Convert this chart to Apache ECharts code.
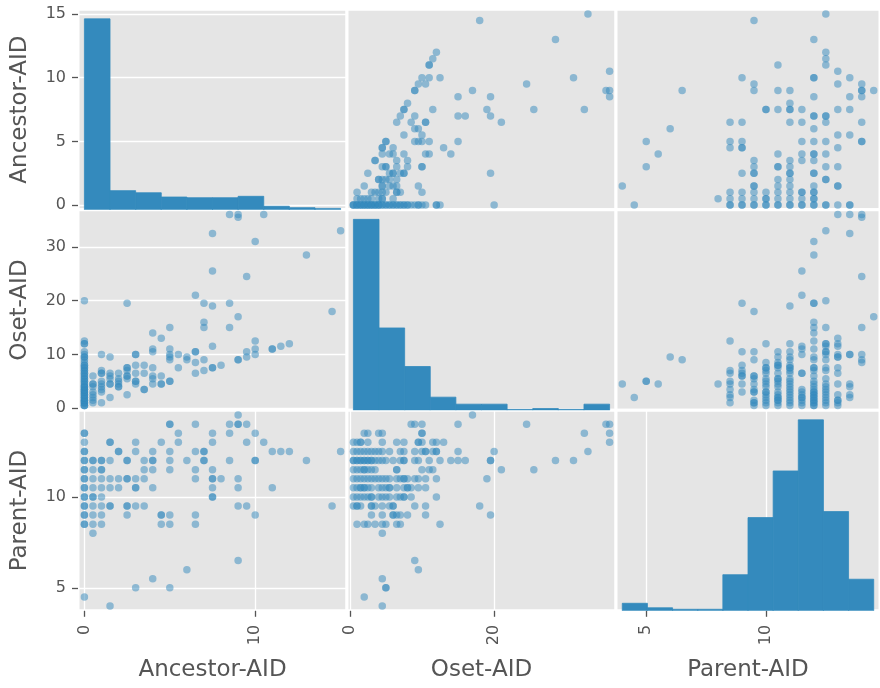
<!DOCTYPE html>
<html><head><meta charset="utf-8">
<script src="https://cdn.jsdelivr.net/npm/echarts@6/dist/echarts.min.js"></script>
<style>html,body{margin:0;padding:0;background:#fff}#c{width:880px;height:688px}</style>
</head><body><div id="c"></div><script>
const variables = ['Ancestor-AID', 'Oset-AID', 'Parent-AID'];

// [Ancestor-AID, Oset-AID]
const ancestorOsetPairs = [
 [0,0.5],[0,0.5],[0,0.5],[0,1],[0,1],[0,1],[0,1.5],[0,1.5],[0,1.5],[0,2],[0,2],[0,2],[0,2.5],[0,2.5],[0,2.5],
 [0,3],[0,3],[0,3],[0,3.5],[0,3.5],[0,3.5],[0,4],[0,4],[0,4],[0,4.5],[0,4.5],[0,5],[0,5],[0,5.5],[0,5.5],
 [0,6],[0,6],[0,6.5],[0,6.5],[0,7],[0,7],[0,7.5],[0,7.5],[0,8],[0,8],[0,8.5],[0,9],[0,9.5],[0,9.5],[0,10],
 [0,10.5],[0,12],[0,12],[0,12.5],[0,20],
 [0.5,1],[0.5,1.5],[0.5,2],[0.5,2.5],[0.5,3],[0.5,4],[0.5,4.5],[0.5,4.5],[0.5,6],
 [1,1],[1,3],[1,3.5],[1,4],[1,4.5],[1,5],[1,6.5],[1,6.5],[1,7],[1,10],
 [1.5,2],[1.5,4.5],[1.5,4.5],[1.5,5.5],[1.5,6],[1.5,6.5],[1.5,9.5],
 [2,4],[2,4],[2,4.5],[2,5],[2,5.5],[2,6.5],
 [2.5,2.5],[2.5,5.5],[2.5,6],[2.5,6],[2.5,7],[2.5,7.5],[2.5,7.5],[2.5,19.5],
 [3,4.5],[3,5],[3,5],[3,6.5],[3,8],[3,10],[3,10],
 [3.5,3.5],[3.5,3.5],[3.5,6.5],[3.5,8],
 [4,4.5],[4,5.5],[4,6],[4,7.5],[4,10.5],[4,11],[4,14],
 [4.5,4.5],[4.5,4.5],[4.5,6],[4.5,13],
 [5,5],[5,5],[5,9],[5,9.5],[5,10],[5,11],[5,15],
 [5.5,7.5],[5.5,10],
 [6,9],[6,9.5],
 [6.5,6.5],[6.5,8.5],[6.5,10.5],[6.5,10.5],[6.5,21],
 [7,7],[7,9],[7,15],[7,16],[7,19.5],
 [7.5,7.5],[7.5,7.5],[7.5,11.5],[7.5,19],[7.5,25.5],[7.5,32.5],
 [8,8],
 [8.5,15],[8.5,19.5],[8.5,36],
 [9,9],[9,9],[9,17],[9,35.5],[9,36],
 [9.5,9.5],[9.5,10.5],[9.5,24.5],
 [10,10],[10,11],[10,12.5],[10,31],
 [10.5,36],
 [11,11],[11,11],
 [11.5,11.5],
 [12,12],
 [13,28.5],
 [14.5,18],
 [15,33]
];

// [Ancestor-AID, Parent-AID]
const ancestorParentPairs = [
 [9,14.5],
 [5,14],[5,14],[6.5,14],[8.5,14],[9,14],[9,14],[9.5,14],
 [0,13.5],[0,13.5],[5.5,13.5],[7.5,13.5],[8.5,13.5],[10,13.5],
 [0,13],[1.5,13],[1.5,13],[3,13],[4.5,13],[5.5,13],[7.5,13],[9.5,13],[10.5,13],
 [0,12.5],[0,12.5],[2,12.5],[2,12.5],[3,12.5],[4,12.5],[5,12.5],[6.5,12.5],[7,12.5],[7,12.5],[11,12.5],[11.5,12.5],[12,12.5],[15,12.5],
 [0,12],[0,12],[0.5,12],[0.5,12],[1,12],[1,12],[1.5,12],[2.5,12],[2.5,12],[3.5,12],[4,12],[4,12],[5,12],[6,12],[7,12],[7,12],[8.5,12],[10,12],[10,12],[13,12],
 [0,11.5],[0,11.5],[0.5,11.5],[1,11.5],[1,11.5],[3.5,11.5],[4,11.5],[5,11.5],[6.5,11.5],[7.5,11.5],
 [0,11],[0,11],[0.5,11],[1,11],[1.5,11],[2,11],[2.5,11],[2.5,11],[3,11],[3.5,11],[6.5,11],[7.5,11],[7.5,11],[8,11],[9,11],
 [0,10.5],[0,10.5],[0.5,10.5],[1,10.5],[1.5,10.5],[2,10.5],[3,10.5],[3,10.5],[4,10.5],[7.5,10.5],[9,10.5],[11,10.5],
 [0,10],[0,10],[0.5,10],[0.5,10],[1,10],[7.5,10],[7.5,10],
 [0,9.5],[0,9.5],[0.5,9.5],[1,9.5],[1.5,9.5],[1.5,9.5],[2.5,9.5],[2.5,9.5],[3,9.5],[3.5,9.5],[9,9.5],[9.5,9.5],[14.5,9.5],
 [0,9],[0,9],[0.5,9],[1,9],[2.5,9],[4.5,9],[4.5,9],[5,9],[6.5,9],[10,9],
 [0,8.5],[0,8.5],[0.5,8.5],[1,8.5],[4.5,8.5],[5,8.5],[6.5,8.5],
 [0.5,8],[9,6.5],[6,6],[4,5.5],[3,5],[5,5],[0,4.5],[1.5,4]
];

// [Oset-AID, Parent-AID]
const osetParentPairs = [
 [17,14.5],
 [8.5,14],[9,14],[10,14],[15,14],[24.5,14],[35.5,14],[36,14],
 [2,13.5],[2.5,13.5],[4,13.5],[4.5,13.5],[10,13.5],[10,13.5],[32.5,13.5],[36,13.5],
 [0.5,13],[1,13],[1.5,13],[1.5,13],[2.5,13],[4.5,13],[6.5,13],[7.5,13],[9.5,13],[9.5,13],[10,13],[11.5,13],[12,13],[13,13],[36,13],
 [0.5,12.5],[1,12.5],[1.5,12.5],[2,12.5],[2.5,12.5],[3,12.5],[3.5,12.5],[4,12.5],[4.5,12.5],[5.5,12.5],[7,12.5],[7.5,12.5],
 [9,12.5],[10,12.5],[10.5,12.5],[10.5,12.5],[11.5,12.5],[12,12.5],[12,12.5],[15,12.5],[20,12.5],[33,12.5],
 [0.5,12],[0.5,12],[1,12],[1,12],[1.5,12],[1.5,12],[2,12],[2,12],[2.5,12],[2.5,12],[3,12],[3,12],[3.5,12],[4,12],[4.5,12],
 [5,12],[6,12],[7,12],[7.5,12],[7.5,12],[9,12],[9.5,12],[11,12],[12.5,12],[14,12],[15,12],[16,12],[19.5,12],[19.5,12],[28.5,12],[31,12],
 [0.5,11.5],[1,11.5],[1.5,11.5],[2,11.5],[2,11.5],[2.5,11.5],[3,11.5],[3.5,11.5],[6.5,11.5],[6.5,11.5],[10,11.5],[11,11.5],[11.5,11.5],[21,11.5],[25.5,11.5],
 [0.5,11],[1,11],[1.5,11],[2,11],[2.5,11],[3,11],[3.5,11],[4,11],[4.5,11],[5,11],[5.5,11],[6.5,11],[7,11],[7.5,11],[7.5,11],[8,11],[9,11],[9.5,11],[10.5,11],[12,11],[19,11],
 [0.5,10.5],[1,10.5],[1.5,10.5],[1.5,10.5],[2,10.5],[2,10.5],[2.5,10.5],[3,10.5],[4,10.5],[4.5,10.5],[5,10.5],[5.5,10.5],[5.5,10.5],[6.5,10.5],[7.5,10.5],[8,10.5],[8,10.5],[8.5,10.5],[9.5,10.5],[10.5,10.5],
 [0.5,10],[1,10],[1.5,10],[2,10],[2.5,10],[3,10],[3,10],[4,10],[4.5,10],[5,10],[5.5,10],[6.5,10],[7,10],[7.5,10],[7.5,10],[8.5,10],[12,10],
 [0.5,9.5],[1,9.5],[1,9.5],[1.5,9.5],[3,9.5],[3,9.5],[3.5,9.5],[4.5,9.5],[5.5,9.5],[6,9.5],[6,9.5],[9,9.5],[10.5,9.5],[18,9.5],
 [3,9],[4.5,9],[6,9],[6,9],[6.5,9],[7,9],[8,9],[10.5,9],[19.5,9],
 [1,8.5],[2,8.5],[2.5,8.5],[3.5,8.5],[4.5,8.5],[5,8.5],[6.5,8.5],[7,8.5],[12.5,8.5],
 [4.5,8],[9,6.5],[9.5,6],[4.5,5.5],[5,5],[5,5],[2,4.5],[4.5,4]
];

// histogram counts (10 equal bins between each variable's min and max)
const ancestorHistCounts = [269, 27, 24, 18, 17, 17, 19, 5, 3, 2];
const osetHistCounts = [218, 94, 50, 15, 7, 7, 1, 2, 1, 7];
const parentHistCounts = [5, 2, 1, 1, 24, 62, 93, 127, 66, 21];

// tick values shown on the outer axes
const yTickValues = [[0, 5, 10, 15], [0, 10, 20, 30], [5, 10]];
const xTickValues = [[0, 10], [0, 20], [5, 10]];

const FONT = 'DejaVu Sans';
const GRAY = '#555555';
const BLUE = '#348ABD';
const lefts = [78, 347, 616], tops = [9.3, 209.8, 410.3], W = 269, H = 200.5;

const pairSets = {'0-1': ancestorOsetPairs, '0-2': ancestorParentPairs, '1-2': osetParentPairs};
const histCounts = [ancestorHistCounts, osetHistCounts, parentHistCounts];

function varValues(k) {
  const vals = [];
  Object.keys(pairSets).forEach(key => {
    const [a, b] = key.split('-').map(Number);
    pairSets[key].forEach(p => { if (a === k) vals.push(p[0]); if (b === k) vals.push(p[1]); });
  });
  return vals;
}
const ranges = [0, 1, 2].map(k => { const v = varValues(k); return [Math.min(...v), Math.max(...v)]; });
const lims = ranges.map(([lo, hi]) => { const e = (hi - lo) * 0.025; return [lo - e, hi + e]; });

function panelData(i, j) { // x = variable j, y = variable i
  if (j < i) return pairSets[j + '-' + i].map(p => [p[0], p[1]]);
  return pairSets[i + '-' + j].map(p => [p[1], p[0]]);
}

function axisDef(dim, g, lim, ticks, name) {
  const a = {type: 'value', gridIndex: g, min: lim[0], max: lim[1]};
  if (!ticks) { a.show = false; return a; }
  Object.assign(a, {
    name: name, nameLocation: 'middle', nameGap: dim === 'x' ? 48 : 46,
    nameTextStyle: {color: GRAY, fontFamily: FONT, fontSize: 23},
    axisLine: {show: false, onZero: false},
    axisTick: {show: true, inside: false, length: 6, lineStyle: {color: GRAY, width: 1.3}, customValues: ticks},
    axisLabel: {show: true, customValues: ticks, color: GRAY, fontFamily: FONT, fontSize: 16,
                margin: dim === 'x' ? 14 : 12, rotate: dim === 'x' ? 90 : 0},
    splitLine: {show: true, lineStyle: {color: '#FFFFFF', width: 1.3}}
  });
  return a;
}

const grids = [], xAxes = [], yAxes = [], series = [];
for (let i = 0; i < 3; i++) for (let j = 0; j < 3; j++) {
  const g = i * 3 + j;
  grids.push({left: lefts[j], top: tops[i], width: W, height: H, show: true,
              backgroundColor: '#E5E5E5', borderColor: '#FFFFFF', borderWidth: 3});
  xAxes.push(axisDef('x', g, lims[j], i === 2 ? xTickValues[j] : null, variables[j]));
  yAxes.push(axisDef('y', g, lims[i], j === 0 ? yTickValues[i] : null, variables[i]));
}
for (let k = 0; k < 3; k++) {
  const g = k * 4;
  const counts = histCounts[k];
  yAxes.push({type: 'value', gridIndex: g, min: 0, max: Math.max(...counts) * 1.05, show: false});
  const [lo, hi] = ranges[k];
  const step = (hi - lo) / counts.length;
  const data = counts.map((c, n) => [lo + n * step, lo + (n + 1) * step, c]);
  series.push({
    type: 'custom', xAxisIndex: g, yAxisIndex: 9 + k, data: data, clip: true, silent: true,
    encode: {x: [0, 1], y: 2},
    renderItem: function (params, api) {
      const p0 = api.coord([api.value(0), 0]);
      const p1 = api.coord([api.value(1), api.value(2)]);
      return {type: 'rect', shape: {x: p0[0], y: p1[1], width: p1[0] - p0[0], height: p0[1] - p1[1]},
              style: {fill: BLUE, stroke: BLUE, lineWidth: 0.8}};
    }
  });
}
for (let i = 0; i < 3; i++) for (let j = 0; j < 3; j++) {
  if (i === j) continue;
  const g = i * 3 + j;
  series.push({type: 'scatter', xAxisIndex: g, yAxisIndex: g, data: panelData(i, j),
               symbolSize: 7.5, silent: true, itemStyle: {color: BLUE, opacity: 0.5}});
}

const chart = echarts.init(document.getElementById('c'), null, {renderer: 'canvas'});
chart.setOption({animation: false, backgroundColor: '#FFFFFF', grid: grids, xAxis: xAxes, yAxis: yAxes, series: series});
</script></body></html>
